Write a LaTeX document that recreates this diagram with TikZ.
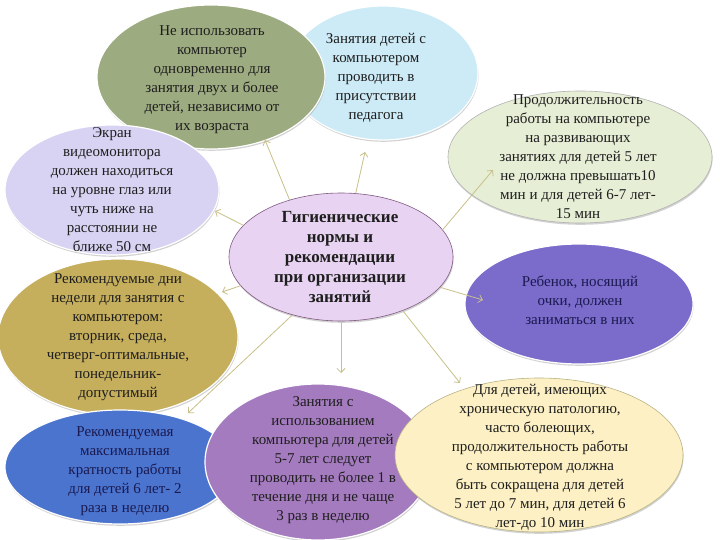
\documentclass[tikz,border=0pt]{standalone}
\usepackage{fontspec}
\setmainfont{Liberation Serif}
\usetikzlibrary{shapes.geometric,arrows.meta,shadows}
\definecolor{cGreen}{HTML}{9DAB80}
\definecolor{cSky}{HTML}{CDEBF7}
\definecolor{cPale}{HTML}{E6EED6}
\definecolor{cLav}{HTML}{D9D3F3}
\definecolor{cCen}{HTML}{E8D4F2}
\definecolor{cViolet}{HTML}{7B6BCB}
\definecolor{cMust}{HTML}{C5AE5C}
\definecolor{cBlue}{HTML}{4B74CE}
\definecolor{cOrch}{HTML}{A57BC0}
\definecolor{cCream}{HTML}{FCF0C4}
\definecolor{cLine}{HTML}{C8C088}
\definecolor{cInk}{HTML}{1E1E1E}
\definecolor{cNavy}{HTML}{1A1A50}
\tikzset{
  ell/.style={ellipse, inner sep=0pt, draw=white, line width=1.2pt,
    drop shadow={shadow xshift=0.6pt, shadow yshift=-1.8pt, opacity=0.35, fill=gray}},
  txt/.style={align=center, inner sep=0pt, text=cInk, font=\fontsize{15}{19}\selectfont},
  arr/.style={draw=cLine, line width=0.8pt, -{Straight Barb[length=4pt,width=8pt]}}
}
\begin{document}
\begin{tikzpicture}[x=1pt,y=-1pt]
\useasboundingbox (0,0) rectangle (720,540);
\fill[white] (0,0) rectangle (720,540);

\node[ell, fill=cSky, minimum width=190pt, minimum height=134pt] (e2) at (383,73) {};
\node[txt] (t2) at (376,78) {Занятия детей с\\компьютером\\проводить в\\присутствии\\педагога};

\node[ell, fill=cGreen, minimum width=228pt, minimum height=144pt] (e1) at (211,77) {};
\node[txt] (t1) at (212,80) {Не использовать\\компьютер\\одновременно для\\занятия двух и более\\детей, независимо от\\их возраста};

\node[ell, fill=cPale, draw=gray!60, line width=0.6pt, minimum width=264pt, minimum height=132pt] (e3) at (580,157) {};
\node[txt] (t3) at (578,157) {Продолжительность\\работы на компьютере\\на развивающих\\занятиях для детей 5 лет\\не должна превышать10\\мин и для детей 6-7 лет-\\15 мин};

\node[ell, fill=cLav, minimum width=214pt, minimum height=130pt] (e4) at (112,190) {};
\node[txt] (t4) at (112,190) {Экран\\видеомонитора\\должен находиться\\на уровне глаз или\\чуть ниже на\\расстоянии не\\ближе 50 см};

\node[ell, fill=cCen, draw=gray!70!violet, line width=0.6pt, minimum width=224pt, minimum height=128pt] (e5) at (341,257) {};
\node[txt, font=\bfseries\fontsize{17}{20}\selectfont] (t5) at (340,257) {Гигиенические\\нормы и\\рекомендации\\при организации\\занятий};

\node[ell, fill=cViolet, minimum width=228pt, minimum height=120pt] (e6) at (579,304) {};
\node[txt, text=cNavy] (t6) at (580,300) {Ребенок, носящий\\очки, должен\\заниматься в них};

\node[ell, fill=cMust, minimum width=240pt, minimum height=156pt] (e7) at (118,337) {};
\node[txt] (t7) at (118,337) {Рекомендуемые дни\\недели для занятия с\\компьютером:\\вторник, среда,\\четверг-оптимальные,\\понедельник-\\допустимый};

\node[ell, fill=cBlue, minimum width=230pt, minimum height=114pt] (e8) at (120,467) {};
\node[txt, text=cNavy] (t8) at (125,471) {Рекомендуемая\\максимальная\\кратность работы\\для детей 6 лет- 2\\раза в неделю};

\node[ell, fill=cOrch, minimum width=226pt, minimum height=156pt] (e9) at (318,462) {};
\node[txt] (t9) at (323,460) {Занятия с\\использованием\\компьютера для детей\\5-7 лет следует\\проводить не более 1 в\\течение дня и не чаще\\3 раз в неделю};

\node[ell, fill=cCream, draw=cLine!80!gray, line width=0.6pt, minimum width=288pt, minimum height=154pt] (e10) at (539,455) {};
\node[txt] (t10) at (540,457) {Для детей, имеющих\\хроническую патологию,\\часто болеющих,\\продолжительность работы\\с компьютером должна\\быть сокращена для детей\\5 лет до 7 мин, для детей 6\\лет-до 10 мин};

\coordinate (a1) at (265,140);
\coordinate (a2) at (365,152);
\coordinate (a3) at (493,170);
\coordinate (a4) at (215,211);
\coordinate (a6) at (483,300);
\coordinate (a7) at (222,292);
\coordinate (a8) at (188,413);
\coordinate (a9) at (341,373);
\coordinate (a10) at (460,383);

\draw[arr] (e5.132) -- (a1);
\draw[arr] (e5.77) -- (a2);
\draw[arr] (e5.15) -- (a3);
\draw[arr] (e5.162) -- (a4);
\draw[arr] (e5.-17) -- (a6);
\draw[arr] (e5.196) -- (a7);
\draw[arr] (e5.230) -- (a8);
\draw[arr] (e5.270) -- (a9);
\draw[arr] (e5.-41) -- (a10);
\end{tikzpicture}
\end{document}
